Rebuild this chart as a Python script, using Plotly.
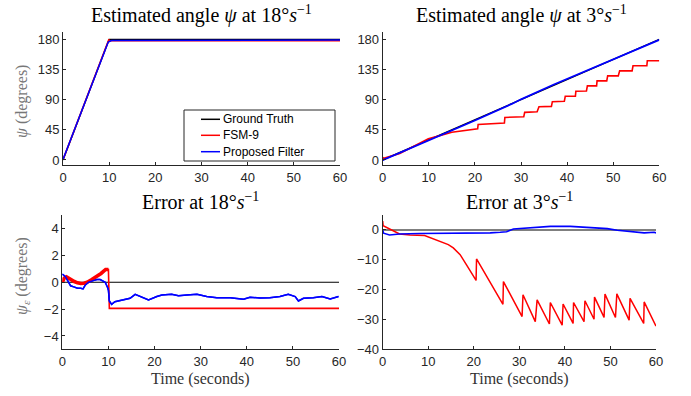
import plotly.graph_objects as go

# ---------------- data ----------------
# Top-left: estimated angle at 18 deg/s
t_gt18 = [0, 10, 60]
gt18 = [0, 180, 180]
t_fsm18 = [0, 0.7, 4, 9.9, 10.2, 60]
fsm18 = [0.3, 13, 71.9, 179.2, 178.0, 178.0]
t_pf18 = [0, 4, 9.8, 10.5, 60]
pf18 = [0.6, 71.6, 175.9, 178.3, 178.9]

# Top-right: estimated angle at 3 deg/s
t_gt3 = [0, 60]
gt3 = [0, 180]
t_fsm3 = [0, 0.2, 3.7, 9.9, 15, 18, 20.6, 20.7, 26.4, 26.5, 30.6, 30.8, 33.5, 33.9,
          36.6, 36.8, 39.4, 39.6, 41.8, 41.9, 44.2, 44.4, 46.4, 46.5, 48.6, 48.8,
          51.1, 51.4, 54.1, 54.3, 57.3, 57.4, 60]
fsm3 = [3.9, 2.5, 9.8, 31.5, 41.4, 44.5, 46.5, 53, 55, 63.5, 64.5, 71, 72, 79.5,
        80, 87, 87.5, 95, 95, 102.5, 103, 110.5, 110.5, 118, 118, 125.5,
        125.5, 133, 133, 140.5, 140.5, 148, 148]
t_pf3 = [0, 10, 20, 28, 30, 37, 45, 50, 55, 60]
pf3 = [-0.3, 28.8, 58.9, 83.6, 90.5, 112.2, 135.9, 150.3, 164.5, 179.2]

# Bottom-left: error at 18 deg/s
t_err_gt18 = [0, 60]
err_gt18 = [0, 0]
t_err_fsm18 = [0, 0.4, 0.9, 1.8, 2.6, 3.3, 4.0, 4.7, 5.4, 6.4, 7.4, 8.4, 9.4, 10.0, 10.2, 60]
err_fsm18 = [0.0, 0.3, 0.4, 0.2, 0.05, -0.05, -0.1, -0.08, 0.0, 0.2, 0.4, 0.65, 0.95, 0.95, -1.95, -1.95]
t_err_pf18 = [0, 0.3, 0.7, 1.2, 1.8, 2.5, 3.3, 4.0, 4.5, 5.0, 5.7, 6.7, 7.5, 8.2, 8.8, 9.3,
              9.8, 10.0, 10.2, 10.7, 11.4, 13.2, 14.7, 15.8, 16.9, 18.7, 20.5, 21.6,
              23.7, 25.2, 27.0, 29.2, 31.3, 33.5, 36.4, 38.5, 39.3, 40.7, 42.9, 45.0,
              47.2, 49.0, 50.5, 51.2, 52.3, 54.4, 56.3, 58.1, 59.9]
err_pf18 = [0.6, 0.5, 0.4, 0.1, -0.27, -0.35, -0.45, -0.45, -0.5, -0.2, 0.0, 0.12, 0.2,
            0.2, 0.1, 0.0, -0.37, -0.6, -1.4, -1.65, -1.45, -1.32, -1.2, -0.9, -1.07,
            -1.32, -1.07, -0.95, -0.9, -1.0, -0.95, -0.9, -1.07, -1.15, -1.15, -1.2,
            -1.27, -1.12, -1.17, -1.15, -1.07, -0.9, -1.07, -1.4, -1.2, -1.15, -1.07,
            -1.25, -1.07]

# Bottom-right: error at 3 deg/s
t_err_gt3 = [0, 60]
err_gt3 = [0, 0]
t_err_fsm3 = [0, 0.1, 3.7, 6.0, 9.2, 11.8, 14.4, 15.5, 17.0, 18.4, 19.5, 20.5, 20.6,
              26.4, 26.5, 30.6, 30.8, 33.5, 33.9, 36.6, 36.8, 39.4, 39.6, 41.8, 41.9,
              44.2, 44.4, 46.4, 46.5, 48.6, 48.8, 51.1, 51.4, 54.1, 54.3, 57.3, 57.4, 60]
err_fsm3 = [3.0, 1.4, -1.35, -1.7, -1.9, -3.3, -4.9, -6.0, -8.3, -11.7, -14.3, -16.9, -9.7,
            -24.9, -17.3, -29.0, -21.7, -30.7, -23.4, -31.5, -24.3, -31.9, -24.8, -31.3, -24.3,
            -30.7, -23.7, -29.9, -22.5, -29.3, -21.5, -29.3, -21.4, -30.2, -22.9, -31.3, -24.1, -32.2]
t_err_pf3 = [0, 0.2, 1.5, 3.7, 8.1, 10.3, 12.5, 14.7, 17.0, 19.2, 21.4, 23.6, 25.8, 27.2,
             28.7, 30.2, 30.9, 33.1, 36.8, 41.2, 44.9, 49.3, 51.5, 54.5, 57.4, 59.6, 60]
err_pf3 = [-0.1, -1.1, -1.7, -1.35, -1.2, -1.2, -1.0, -1.2, -1.0, -1.2, -1.0, -1.0, -0.8,
           -0.6, 0.3, 0.5, 0.6, 0.65, 1.2, 1.2, 0.9, 0.45, -0.1, -0.45, -1.0, -0.8, -1.0]

x_ticks = [0, 10, 20, 30, 40, 50, 60]
y_ticks_top = [0, 45, 90, 135, 180]
y_ticks_bl = [-4, -2, 0, 2, 4]
y_ticks_br = [-40, -30, -20, -10, 0]

legend_names = ["Ground Truth", "FSM-9", "Proposed Filter"]
titles = ["Estimated angle <i>ψ</i> at 18°<i>s</i><sup>−1</sup>",
          "Estimated angle <i>ψ</i> at 3°<i>s</i><sup>−1</sup>",
          "Error at 18°<i>s</i><sup>−1</sup>",
          "Error at 3°<i>s</i><sup>−1</sup>"]

# ---------------- style ----------------
W, H = 691, 396
BLACK, RED, BLUE = "#000000", "#FF0000", "#0000FF"
AX = "#262626"
SANS = "Liberation Sans, Arial, sans-serif"
SERIF = "Liberation Serif, Times New Roman, serif"


def fx(p):
    return p / W


def fy(p):
    return 1 - p / H


fig = go.Figure()

panels = [
    ("x", "y", [(t_gt18, gt18, BLACK, 1.3), (t_fsm18, fsm18, RED, 1.6), (t_pf18, pf18, BLUE, 1.6)]),
    ("x2", "y2", [(t_gt3, gt3, BLACK, 1.3), (t_fsm3, fsm3, RED, 1.6), (t_pf3, pf3, BLUE, 1.8)]),
    ("x3", "y3", [(t_err_gt18, err_gt18, BLACK, 1.1), (t_err_fsm18, err_fsm18, RED, 1.6),
                  (t_err_pf18, err_pf18, BLUE, 1.5)]),
    ("x4", "y4", [(t_err_gt3, err_gt3, BLACK, 1.1), (t_err_fsm3, err_fsm3, RED, 1.5),
                  (t_err_pf3, err_pf3, BLUE, 1.6)]),
]

for xa, ya, series in panels:
    for i, (tx, vy, col, w) in enumerate(series):
        fig.add_trace(go.Scatter(x=tx, y=vy, mode="lines", name=legend_names[i],
                                 line=dict(color=col, width=w), xaxis=xa, yaxis=ya,
                                 showlegend=False, hoverinfo="skip"))

# thicker (noisy-looking) red segment before t = 10 in the 18 deg/s error panel
seg_t = [t for t in t_err_fsm18 if t <= 10.0]
seg_v = err_fsm18[:len(seg_t)]
fig.add_trace(go.Scatter(x=seg_t, y=seg_v, mode="lines", line=dict(color=RED, width=3.6),
                         xaxis="x3", yaxis="y3", showlegend=False, hoverinfo="skip"))
fig.add_trace(go.Scatter(x=t_err_pf18, y=err_pf18, mode="lines", line=dict(color=BLUE, width=1.5),
                         xaxis="x3", yaxis="y3", showlegend=False, hoverinfo="skip"))

xdom = {
    "x": [fx(63), fx(340)],
    "x2": [fx(382.7), fx(659.3)],
    "x3": [fx(62.3), fx(339)],
    "x4": [fx(382.7), fx(656)],
}
ydom_top = [fy(165), fy(32.3)]
ydom_bot = [fy(349.4), fy(215)]


def xaxis_cfg(dom, anchor):
    return dict(domain=dom, anchor=anchor, range=[0, 60], tickvals=x_ticks, automargin=False,
                showline=True, linecolor=AX, linewidth=1, ticks="inside", ticklen=3,
                tickcolor=AX, showgrid=False, zeroline=False,
                tickfont=dict(family=SANS, size=13, color=AX))


def yaxis_cfg(dom, anchor, rng, tv):
    return dict(domain=dom, anchor=anchor, range=rng, tickvals=tv, automargin=False,
                showline=True, linecolor=AX, linewidth=1, ticks="inside", ticklen=3,
                tickcolor=AX, showgrid=False, zeroline=False,
                tickfont=dict(family=SANS, size=13, color=AX))


fig.update_layout(
    width=W, height=H, margin=dict(l=0, r=0, t=0, b=0, pad=0, autoexpand=False),
    paper_bgcolor="white", plot_bgcolor="white", showlegend=False,
    xaxis=xaxis_cfg(xdom["x"], "y"),
    xaxis2=xaxis_cfg(xdom["x2"], "y2"),
    xaxis3=xaxis_cfg(xdom["x3"], "y3"),
    xaxis4=xaxis_cfg(xdom["x4"], "y4"),
    yaxis=yaxis_cfg(ydom_top, "x", [-7.5, 190.5], y_ticks_top),
    yaxis2=yaxis_cfg(ydom_top, "x2", [-7.5, 190.5], y_ticks_top),
    yaxis3=yaxis_cfg(ydom_bot, "x3", [-5, 5], y_ticks_bl),
    yaxis4=yaxis_cfg(ydom_bot, "x4", [-40, 5], y_ticks_br),
)

ann = []
title_pos = [((63 + 340) / 2, 15), ((382.7 + 659.3) / 2, 15),
             ((62.3 + 339) / 2, 201), ((382.7 + 656) / 2, 201)]
for txt, (cx, cy) in zip(titles, title_pos):
    ann.append(dict(text=txt, x=fx(cx), y=fy(cy), xref="paper", yref="paper",
                    xanchor="center", yanchor="middle", showarrow=False,
                    font=dict(family=SERIF, size=20, color="#000000")))
for cx in [(62.3 + 339) / 2, (382.7 + 656) / 2]:
    ann.append(dict(text="Time (seconds)", x=fx(cx), y=fy(379), xref="paper", yref="paper",
                    xanchor="center", yanchor="middle", showarrow=False,
                    font=dict(family=SERIF, size=16, color="#333333")))
ann.append(dict(text="<i>ψ</i> (degrees)", x=fx(22), y=fy(101), xref="paper", yref="paper",
                xanchor="center", yanchor="middle", showarrow=False, textangle=-90,
                font=dict(family=SERIF, size=16, color="#777777")))
ann.append(dict(text="<i>ψ<sub>ε</sub></i> (degrees)", x=fx(22), y=fy(276), xref="paper", yref="paper",
                xanchor="center", yanchor="middle", showarrow=False, textangle=-90,
                font=dict(family=SERIF, size=16, color="#777777")))

# legend (manual, inside top-left panel)
shapes = [dict(type="rect", xref="paper", yref="paper", x0=fx(184), x1=fx(335),
               y0=fy(161), y1=fy(110), line=dict(color=AX, width=1), fillcolor="white",
               layer="above")]
leg_rows = [119.3, 135.3, 151.7]
for name, col, ry in zip(legend_names, [BLACK, RED, BLUE], leg_rows):
    shapes.append(dict(type="line", xref="paper", yref="paper", x0=fx(201), x1=fx(220),
                       y0=fy(ry), y1=fy(ry), line=dict(color=col, width=1.5), layer="above"))
    ann.append(dict(text=name, x=fx(221), y=fy(ry), xref="paper", yref="paper",
                    xanchor="left", yanchor="middle", showarrow=False,
                    font=dict(family=SANS, size=12, color="#000000")))

fig.update_layout(annotations=ann, shapes=shapes)
fig.write_html("out.html", config={"displayModeBar": False},
               post_script="document.body.style.margin='0';document.body.style.padding='0';"
                           "document.documentElement.style.overflow='hidden';")
